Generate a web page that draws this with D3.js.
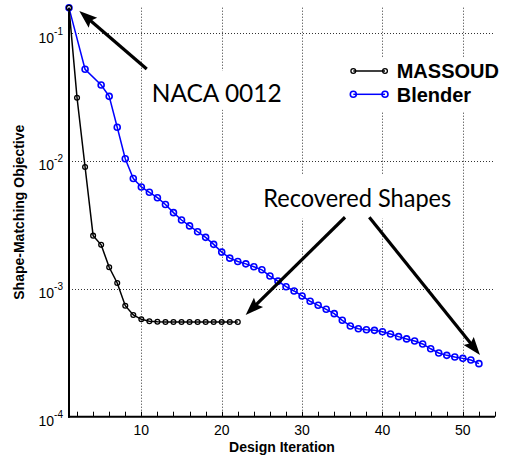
<!DOCTYPE html>
<html><head><meta charset="utf-8">
<script src="https://cdn.jsdelivr.net/npm/d3@7"></script>
<style>html,body{margin:0;padding:0;background:#fff;}svg{display:block;}</style>
</head><body>
<script>
const massoudIter = [1,2,3,4,5,6,7,8,9,10,11,12,13,14,15,16,17,18,19,20,21,22];
const massoudValues = [0.158,0.0313,0.00899,0.00261,0.00221,0.001476,0.001112,0.000739,0.000625,0.000578,0.000558,0.000553,0.000551,0.00055,0.00055,0.00055,0.00055,0.00055,0.00055,0.00055,0.00055,0.00055];
const blenderIter = [1,3,5,6,7,8,9,10,11,12,13,14,15,16,17,18,19,20,21,22,23,24,25,26,27,28,29,30,31,32,33,34,35,36,37,38,39,40,41,42,43,44,45,46,47,48,49,50,51,52];
const blenderValues = [0.158,0.0523,0.0394,0.0321,0.01838,0.01044,0.00731,0.00627,0.00570,0.00517,0.00457,0.00395,0.00346,0.00311,0.00280,0.00253,0.00223,0.00194,0.00174,0.00164,0.00157,0.00149,0.00141,0.00126,0.00115,0.00104,0.000963,0.000880,0.000800,0.000744,0.000692,0.000640,0.000568,0.000513,0.000488,0.000479,0.000474,0.000462,0.000444,0.000423,0.000406,0.000391,0.000371,0.000340,0.000315,0.000302,0.000293,0.000286,0.000278,0.000260];
const seriesNames = ["MASSOUD","Blender"];
const xTicks = [2,4,6,8,10,12,14,16,18,20,22,24,26,28,30,32,34,36,38,40,42,44,46,48,50,52,54];
const xTickLabels = [10,20,30,40,50];
const yTickExps = [-1,-2,-3,-4];
const xTitle = "Design Iteration";
const yTitle = "Shape-Matching Objective";
const nacaText = "NACA 0012";
const recText = "Recovered Shapes";

const W = 512, H = 459;
const svg = d3.select("body").append("svg").attr("width", W).attr("height", H);
const x = d3.scaleLinear().domain([1, 54]).range([69, 495]);
const y = d3.scaleLog().domain([1e-4, Math.pow(10, -0.8)]).range([416.7, 7.7]);
const crisp = v => Math.round(v) + 0.5;

// grid
const grid = svg.append("g").attr("stroke", "#333").attr("stroke-width", 1).attr("stroke-dasharray", "1,2");
xTickLabels.forEach(v => grid.append("line").attr("x1", crisp(x(v))).attr("x2", crisp(x(v))).attr("y1", y.range()[1]).attr("y2", y.range()[0]));
yTickExps.filter(e => e > -4).forEach(e => grid.append("line").attr("x1", x.range()[0]).attr("x2", x.range()[1]).attr("y1", crisp(y(Math.pow(10, e)))).attr("y2", crisp(y(Math.pow(10, e)))));

function boxAround(t, padL, padT, padR, padB) {
  const b = t.node().getBBox();
  svg.insert("rect", () => t.node()).attr("x", b.x - padL).attr("y", b.y - padT)
     .attr("width", b.width + padL + padR).attr("height", b.height + padT + padB).attr("fill", "#fff");
}

// axes
const axG = svg.append("g");
axG.append("line").attr("x1", x.range()[0]).attr("x2", x.range()[0]).attr("y1", y.range()[1]).attr("y2", y.range()[0] + 1).attr("stroke", "#000").attr("stroke-width", 2);
axG.append("line").attr("x1", x.range()[0] - 1).attr("x2", x.range()[1]).attr("y1", y.range()[0]).attr("y2", y.range()[0]).attr("stroke", "#000").attr("stroke-width", 2);
xTicks.forEach(v => axG.append("line").attr("x1", crisp(x(v))).attr("x2", crisp(x(v))).attr("y1", y.range()[0]).attr("y2", y.range()[0] - 5).attr("stroke", "#000").attr("stroke-width", 1));
xTickLabels.forEach(v => axG.append("text").attr("x", x(v)).attr("y", y.range()[0] + 18.5)
  .attr("text-anchor", "middle").attr("font-family", "Liberation Sans, Arial, sans-serif").attr("font-size", 14).text(v));
yTickExps.forEach(e => {
  const yy = y(Math.pow(10, e));
  const t = axG.append("text").attr("x", 63).attr("y", yy + 9.3).attr("text-anchor", "end")
    .attr("font-family", "Liberation Sans, Arial, sans-serif").attr("font-size", 14);
  t.append("tspan").text("10");
  t.append("tspan").attr("font-size", 10).attr("dy", -8).text(String(e));
});
svg.append("text").attr("x", (x.range()[0] + x.range()[1]) / 2).attr("y", 451.7).attr("text-anchor", "middle")
  .attr("font-family", "Liberation Sans, Arial, sans-serif").attr("font-weight", "bold").attr("font-size", 14).text(xTitle);
svg.append("text").attr("transform", `translate(23.5,${(y.range()[0] + y.range()[1]) / 2}) rotate(-90)`).attr("text-anchor", "middle")
  .attr("font-family", "Liberation Sans, Arial, sans-serif").attr("font-weight", "bold").attr("font-size", 14).text(yTitle);

// annotations text with white background
const annoFont = "Lato, 'Open Sans', sans-serif";
const tNaca = svg.append("text").attr("x", x(11.29)).attr("y", y(0.02916)).attr("font-family", annoFont).attr("font-size", 25.5)
  .attr("textLength", 130).attr("lengthAdjust", "spacingAndGlyphs").text(nacaText);
boxAround(tNaca, 8, 6, 8, 3);
const tRec = svg.append("text").attr("x", x(25.17)).attr("y", y(0.004397)).attr("font-family", annoFont).attr("font-size", 25.5)
  .attr("textLength", 188).attr("lengthAdjust", "spacingAndGlyphs").text(recText);
boxAround(tRec, 8, 7, 8, 7);

// legend
const legG = svg.append("g");
legG.append("rect").attr("x", 345).attr("y", 57).attr("width", 165).attr("height", 54).attr("fill", "#fff");
const legRows = [{name: seriesNames[0], color: "#000", r: 2.4, sw: 1.3, yy: 71, ty: 78.3},
                 {name: seriesNames[1], color: "#0000ff", r: 3, sw: 1.6, yy: 94.3, ty: 101.7}];
legRows.forEach(d => {
  legG.append("line").attr("x1", 353.3).attr("x2", 385).attr("y1", d.yy).attr("y2", d.yy).attr("stroke", d.color).attr("stroke-width", 1.5);
  [353.3, 385].forEach(cx => legG.append("circle").attr("cx", cx).attr("cy", d.yy).attr("r", d.r).attr("fill", "none").attr("stroke", d.color).attr("stroke-width", d.sw));
  legG.append("text").attr("x", 396.7).attr("y", d.ty).attr("font-family", "Liberation Sans, Arial, sans-serif")
    .attr("font-weight", "bold").attr("font-size", 20).attr("fill", "#000").text(d.name);
});

// series
const series = [
  {iter: blenderIter, vals: blenderValues, color: "#0000ff", r: 3, sw: 1.6},
  {iter: massoudIter, vals: massoudValues, color: "#000", r: 2.4, sw: 1.3}
];
const line = d3.line().x(d => x(d[0])).y(d => y(d[1]));
series.forEach(s => {
  const pts = s.iter.map((it, i) => [it, s.vals[i]]);
  const g = svg.append("g");
  g.append("path").attr("d", line(pts)).attr("fill", "none").attr("stroke", s.color).attr("stroke-width", 1.5);
  g.selectAll("circle").data(pts).join("circle").attr("cx", d => x(d[0])).attr("cy", d => y(d[1]))
    .attr("r", s.r).attr("fill", "none").attr("stroke", s.color).attr("stroke-width", s.sw);
});

// arrows (data coordinates)
const arrows = [
  {from: [10.67, 0.0526], to: [2.28, 0.1494]},
  {from: [35.34, 0.003634], to: [22.98, 0.000625]},
  {from: [38.36, 0.003634], to: [52.13, 0.000304]}
];
arrows.forEach(a => {
  const x1 = x(a.from[0]), y1 = y(a.from[1]), x2 = x(a.to[0]), y2 = y(a.to[1]);
  const ang = Math.atan2(y2 - y1, x2 - x1);
  const L = 15, Wd = 6.5;
  const bx = x2 - L * Math.cos(ang), by = y2 - L * Math.sin(ang);
  svg.append("line").attr("x1", x1).attr("y1", y1).attr("x2", bx + 2 * Math.cos(ang)).attr("y2", by + 2 * Math.sin(ang))
    .attr("stroke", "#000").attr("stroke-width", 3.2);
  const px = -Math.sin(ang), py = Math.cos(ang);
  const back = 3;
  svg.append("path").attr("d", `M${x2},${y2} L${bx + Wd * px - back * Math.cos(ang)},${by + Wd * py - back * Math.sin(ang)} L${bx},${by} L${bx - Wd * px - back * Math.cos(ang)},${by - Wd * py - back * Math.sin(ang)} Z`)
    .attr("fill", "#000");
});
</script>
</body></html>
